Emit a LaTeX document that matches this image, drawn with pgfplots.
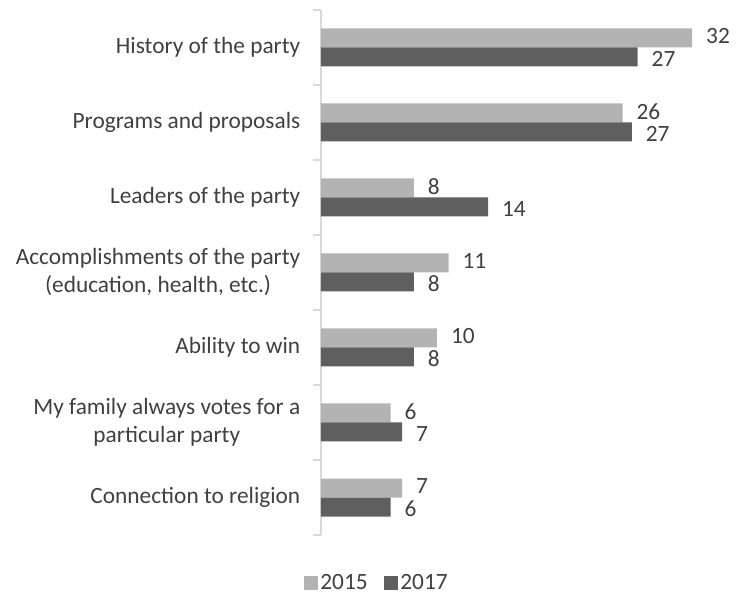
\documentclass[border=0pt]{standalone}
\usepackage{pgfplots}
\pgfplotsset{compat=1.18}
\usepackage{fontspec}
\setmainfont{Carlito}
\definecolor{ca}{HTML}{B3B3B3}
\definecolor{cb}{HTML}{5F5F5F}
\definecolor{txt}{HTML}{404040}
\definecolor{axl}{HTML}{D9D9D9}
\begin{document}
\begin{tikzpicture}
\begin{axis}[
  at={(0,0)}, anchor=south west,
  scale only axis,
  width=304.5pt, height=393.75pt,
  xbar, bar width=14.25pt,
  xmin=0, xmax=35,
  ymin=0.5, ymax=7.5, y dir=reverse,
  axis x line=none,
  axis y line*=left,
  y axis line style={draw=axl, line width=1.1pt},
  ytick={1,...,7},
  major tick length=0pt,
  /pgf/number format/assume math mode=true,
  yticklabels={History of the party, Programs and proposals, Leaders of the party, {Accomplishments of the party\\(education, health, etc.)}, Ability to win, {My family always votes for a\\particular party}, Connection to religion},
  yticklabel style={align=center, font=\fontsize{17.5}{21}\selectfont, text=txt, xshift=-12pt},
  extra y ticks={0.5,1.5,...,7.5},
  extra y tick labels={},
  extra y tick style={major tick length=6pt, tick align=outside, tick style={draw=axl, line width=1.1pt}},
  nodes near coords={\pgfmathprintnumber[fixed,precision=0,assume math mode=true]{\pgfplotspointmeta}},
  nodes near coords style={font=\fontsize{17.5}{20}\selectfont, text=txt, anchor=west, xshift=7pt, inner ysep=0pt},
  legend style={at={(0.138,-0.092)}, anchor=center, draw=none, legend columns=2, font=\fontsize{17.5}{20}\selectfont, text=txt, inner ysep=0pt, nodes={inner ysep=0pt}, /tikz/every even column/.append style={column sep=10pt}},
  legend image code/.code={\fill[#1] (0pt,-5.25pt) rectangle (10.5pt,5.25pt);},
]
\addplot[fill=ca, draw=none, bar shift=7.125pt, nodes near coords style={yshift=1.2pt}] coordinates {(32,1) (26,2) (8,3) (11,4) (10,5) (6,6) (7,7)};
\addplot[fill=cb, draw=none, bar shift=-7.125pt, nodes near coords style={yshift=-1.2pt}] coordinates {(27.3,1) (26.8,2) (14.4,3) (8,4) (8,5) (7,6) (6,7)};
\legend{2015,2017}
\end{axis}
\pgfresetboundingbox
\path (-240.75pt,-45pt) rectangle (311.25pt,401.25pt);
\end{tikzpicture}
\end{document}
